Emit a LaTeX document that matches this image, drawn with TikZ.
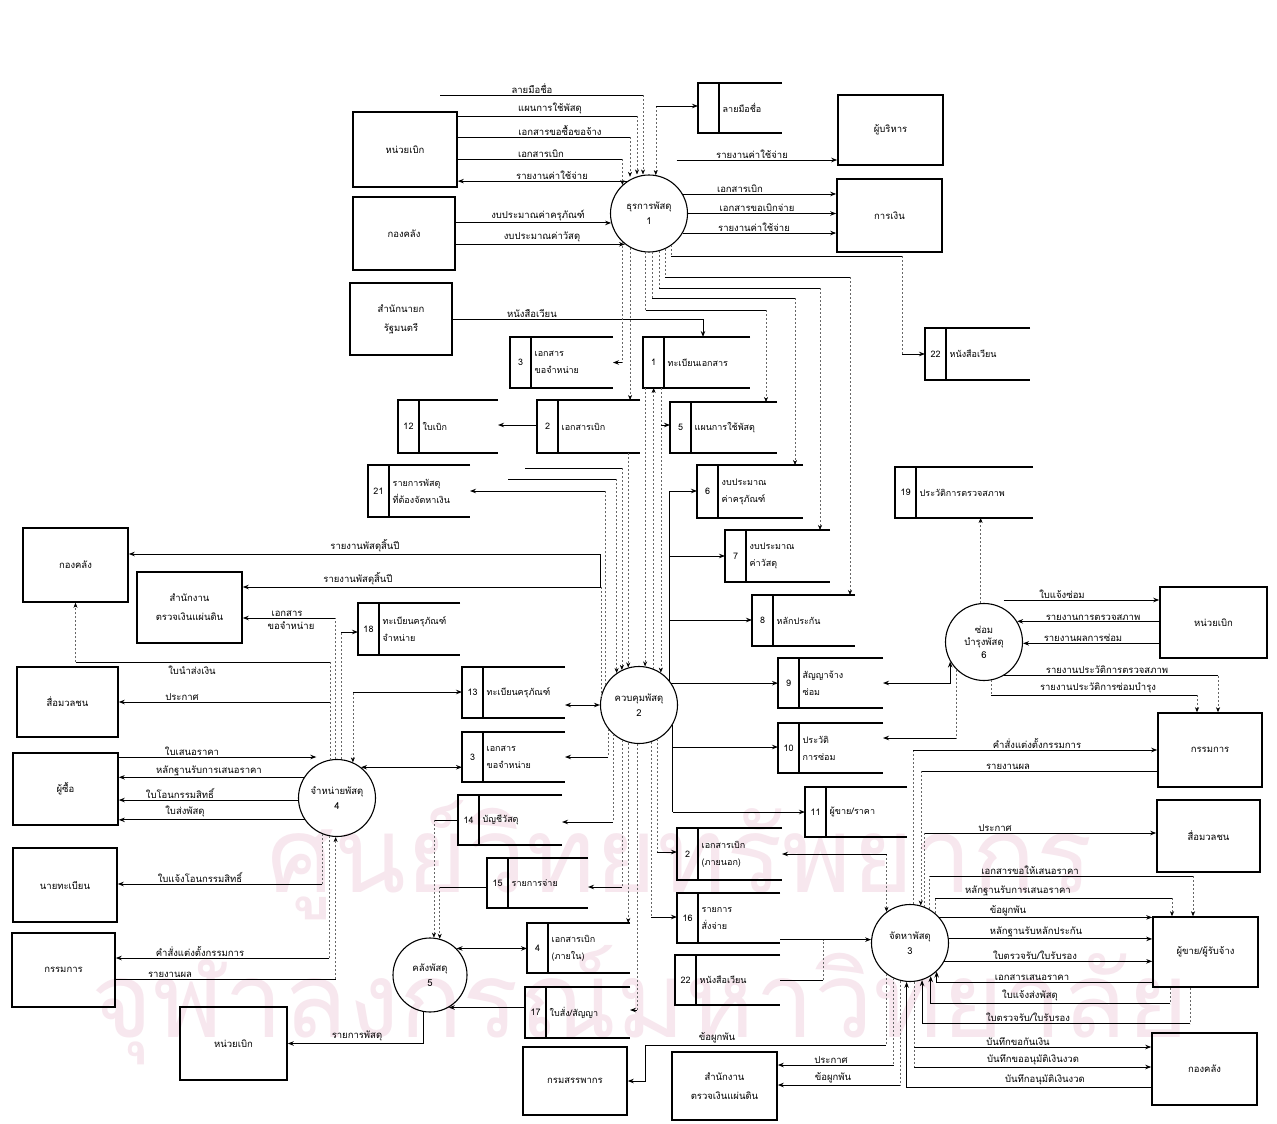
\documentclass[tikz,border=0pt]{standalone}
\usepackage{fontspec}
\newfontfamily\thai[Script=Thai]{Loma}
\usetikzlibrary{arrows.meta,fit}
\definecolor{wmpink}{RGB}{247,231,238}

% data store: name, left, top, right, bottom, number, text
\newcommand{\dstore}[7]{%
  \coordinate (#1-a) at (#2,#3);
  \coordinate (#1-b) at (#4,#5);
  \node[fit=(#1-a)(#1-b), inner sep=0pt, outer sep=0pt] (#1) {};
  \draw[sline] (#1.north east) -- (#1.north west) -- (#1.south west) -- (#1.south east);
  \draw[sline] ([xshift=21pt]#1.north west) -- ([xshift=21pt]#1.south west);
  \node[stxt] (#1-n) at ([xshift=10.5pt]#1.west) {#6};
  \node[stxt, anchor=west, align=left] (#1-t) at ([xshift=24pt]#1.west) {#7};
}

\begin{document}
\begin{tikzpicture}[x=1pt,y=-1pt,
  ent/.style={draw, line width=1.6pt, rectangle, align=center, inner sep=0pt,
    font=\thai\fontsize{9.5}{19}\selectfont},
  proc/.style={draw, circle, line width=1.1pt, minimum size=77pt, align=center,
    inner sep=0pt, font=\thai\fontsize{9.5}{15}\selectfont},
  sline/.style={line width=1.4pt},
  stxt/.style={font=\thai\fontsize{9}{17}\selectfont, inner sep=0.5pt},
  fl/.style={line width=0.9pt, -{Stealth[length=6pt,width=4.5pt]}},
  fb/.style={line width=0.9pt, {Stealth[length=6pt,width=4.5pt]}-{Stealth[length=6pt,width=4.5pt]}},
  pl/.style={line width=0.9pt},
  dl/.style={line width=0.5pt, dash pattern=on 2pt off 2pt, draw=black!60},
  dfl/.style={dl, -{Stealth[length=5pt,width=4pt,black]}},
  dfr/.style={dl, {Stealth[length=5pt,width=4pt,black]}-},
  lbl/.style={font=\thai\fontsize{9.5}{10}\selectfont, inner sep=0.5pt, anchor=south},
  wm/.style={text=wmpink, inner sep=0pt}
]
\useasboundingbox (0,0) rectangle (1277,1124);
\fill[white] (0,0) rectangle (1277,1124);

% faint library stamp in the background
\node[wm, font=\thai\fontsize{105}{105}\selectfont] (wm1) at (680,860) {ศูนย์วิทยทรัพยากร};
\node[wm, font=\thai\fontsize{105}{105}\selectfont] (wm2) at (640,1005) {จุฬาลงกรณ์มหาวิทยาลัย};

% ---------------- external entities ----------------
\node[ent, minimum width=104pt, minimum height=75pt] (E1) at (405,149.5) {หน่วยเบิก};
\node[ent, minimum width=102pt, minimum height=73pt] (E2) at (404,233.5) {กองคลัง};
\node[ent, minimum width=102pt, minimum height=72pt] (E3) at (401,319) {สำนักนายก\\รัฐมนตรี};
\node[ent, minimum width=105pt, minimum height=70pt] (E4) at (890.5,130) {ผู้บริหาร};
\node[ent, minimum width=105pt, minimum height=73pt] (E5) at (889.5,215.5) {การเงิน};
\node[ent, minimum width=105pt, minimum height=74pt] (E6) at (75.5,565) {กองคลัง};
\node[ent, minimum width=105pt, minimum height=71pt] (E7) at (189.5,607.5) {สำนักงาน\\ตรวจเงินแผ่นดิน};
\node[ent, minimum width=101pt, minimum height=70pt] (E8) at (67.5,702) {สื่อมวลชน};
\node[ent, minimum width=105pt, minimum height=72pt] (E9) at (65.5,789) {ผู้ซื้อ};
\node[ent, minimum width=104pt, minimum height=74pt] (E10) at (65,885) {นายทะเบียน};
\node[ent, minimum width=103pt, minimum height=74pt] (E11) at (63.5,970) {กรรมการ};
\node[ent, minimum width=107pt, minimum height=73pt] (E12) at (233.5,1043.5) {หน่วยเบิก};
\node[ent, minimum width=104pt, minimum height=68pt] (E13) at (575,1081) {กรมสรรพากร};
\node[ent, minimum width=105pt, minimum height=68pt] (E14) at (724.5,1086) {สำนักงาน\\ตรวจเงินแผ่นดิน};
\node[ent, minimum width=107pt, minimum height=71pt] (E15) at (1213.5,622.5) {หน่วยเบิก};
\node[ent, minimum width=104pt, minimum height=74pt] (E16) at (1210,750) {กรรมการ};
\node[ent, minimum width=103pt, minimum height=72pt] (E17) at (1208.5,836) {สื่อมวลชน};
\node[ent, minimum width=105pt, minimum height=70pt] (E18) at (1205.5,952) {ผู้ขาย/ผู้รับจ้าง};
\node[ent, minimum width=105pt, minimum height=72pt] (E19) at (1204.5,1069) {กองคลัง};

% ---------------- processes ----------------
\node[proc] (P1) at (649,213.5) {ธุรการพัสดุ\\1};
\node[proc] (P2) at (639,705) {ควบคุมพัสดุ\\2};
\node[proc] (P3) at (910,943) {จัดหาพัสดุ\\3};
\node[proc] (P4) at (337,798) {จำหน่ายพัสดุ\\4};
\node[proc, minimum size=74pt] (P5) at (430,975) {คลังพัสดุ\\5};
\node[proc, font=\thai\fontsize{9.5}{12.5}\selectfont] (P6) at (984,642) {ซ่อม\\บำรุงพัสดุ\\6};

% ---------------- data stores ----------------
\dstore{Ssig}{698}{83}{782}{133}{}{ลายมือชื่อ}
\dstore{S22a}{925}{328}{1030}{380}{22}{หนังสือเวียน}
\dstore{S19}{895}{467}{1033}{518}{19}{ประวัติการตรวจสภาพ}
\dstore{S3a}{510}{337}{613}{388}{3}{เอกสาร\\ขอจำหน่าย}
\dstore{S1}{643}{337}{750}{388}{1}{ทะเบียนเอกสาร}
\dstore{S12}{398}{400}{498}{453}{12}{ใบเบิก}
\dstore{S2a}{537}{400}{640}{453}{2}{เอกสารเบิก}
\dstore{S5}{670}{402}{777}{453}{5}{แผนการใช้พัสดุ}
\dstore{S21}{368}{465}{470}{517}{21}{รายการพัสดุ\\ที่ต้องจัดหาเงิน}
\dstore{S6}{697}{465}{803}{518}{6}{งบประมาณ\\ค่าครุภัณฑ์}
\dstore{S7}{725}{530}{830}{582}{7}{งบประมาณ\\ค่าวัสดุ}
\dstore{S8}{752}{595}{855}{646}{8}{หลักประกัน}
\dstore{S18}{358}{603}{460}{655}{18}{ทะเบียนครุภัณฑ์\\จำหน่าย}
\dstore{S9}{778}{658}{883}{708}{9}{สัญญาจ้าง\\ซ่อม}
\dstore{S13}{462}{667}{565}{718}{13}{ทะเบียนครุภัณฑ์}
\dstore{S10}{778}{723}{883}{773}{10}{ประวัติ\\การซ่อม}
\dstore{S3b}{462}{732}{565}{782}{3}{เอกสาร\\ขอจำหน่าย}
\dstore{S11}{805}{787}{907}{837}{11}{ผู้ขาย/ราคา}
\dstore{S14}{458}{795}{562}{845}{14}{บัญชีวัสดุ}
\dstore{S2b}{677}{828}{782}{880}{2}{เอกสารเบิก\\(ภายนอก)}
\dstore{S15}{487}{858}{588}{908}{15}{รายการจ่าย}
\dstore{S16}{677}{893}{780}{943}{16}{รายการ\\สั่งจ่าย}
\dstore{S4}{527}{923}{630}{973}{4}{เอกสารเบิก\\(ภายใน)}
\dstore{S22b}{675}{955}{780}{1005}{22}{หนังสือเวียน}
\dstore{S17}{525}{987}{630}{1038}{17}{ใบสั่ง/สัญญา}

% ---------------- process 1 ----------------
\coordinate (t0) at (440,95);
\draw[pl] (t0) -- (643,95) coordinate (t0b);
\draw[dfl] (t0b) -- (t0b |- P1.north);
\draw[pl] (E1.east |- 0,116) -- (637,116) coordinate (t1);
\draw[dfl] (t1) -- (t1 |- P1.north);
\draw[pl] (E1.east |- 0,137) -- (630,137) coordinate (t2);
\draw[dfl] (t2) -- (t2 |- P1.110);
\draw[pl] (E1.east |- 0,159) -- (P1.133 |- 0,159) coordinate (t3);
\draw[dfl] (t3) -- (P1.133);
\draw[fl] (P1.124) -- (P1.124 -| E1.east);
\draw[fl] (E2.east |- P1.-166) -- (P1.-166);
\draw[fl] (E2.east |- P1.-128) -- (P1.-128);
\draw[fl] (P1.45 |- 0,160) -- (E4.west |- 0,160);
\draw[fl] (P1.30) -- (P1.30 -| E5.west);
\draw[fl] (P1.0) -- (P1.0 -| E5.west);
\draw[fl] (P1.-30) -- (P1.-30 -| E5.west);
\draw[dfr] (P1.80) -- (P1.80 |- 0,106) coordinate (t4);
\draw[fl] (t4) -- (t4 -| Ssig.west);

% process 1 to the stores on its right
\draw[dl] (P1.-55) -- (P1.-55 |- 0,256) coordinate (u1);
\draw[pl] (u1) -- (u1 -| 902,0) coordinate (u1b);
\draw[dl] (u1b) -- (u1b |- S22a.west) coordinate (u1c);
\draw[fl] (u1c) -- (S22a.west);
\draw[dl] (P1.-66) -- (P1.-66 |- 0,277) coordinate (u2);
\draw[pl] (u2) -- (u2 -| 850,0) coordinate (u2b);
\draw[dfl] (u2b) -- (u2b |- S8.north);
\draw[dl] (P1.-75) -- (P1.-75 |- 0,288) coordinate (u3);
\draw[pl] (u3) -- (u3 -| 820,0) coordinate (u3b);
\draw[dfl] (u3b) -- (u3b |- S7.north);
\draw[dl] (P1.-85) -- (P1.-85 |- 0,298) coordinate (u4);
\draw[pl] (u4) -- (u4 -| 795,0) coordinate (u4b);
\draw[dfl] (u4b) -- (u4b |- S6.north);
\draw[dl] (P1.-95) -- (P1.-95 |- 0,310) coordinate (u5);
\draw[pl] (u5) -- (u5 -| 766,0) coordinate (u5b);
\draw[dfl] (u5b) -- (u5b |- S5.north);
\draw[pl] (E3.east |- 0,319) -- (703,319) coordinate (u6);
\draw[fl] (u6) -- (u6 |- S1.north);
\draw[dl] (P1.-133) -- (P1.-133 |- S3a.east) coordinate (u7);
\draw[fl] (u7) -- (S3a.east);
\draw[dfl] (P1.-119) -- (P1.-119 |- S2a.north);
\draw[fl] (S2a.west |- 0,425) -- (S12.east |- 0,425);

% ---------------- process 2 ----------------
\draw[dl] (P2.150) -- (P2.150 |- S21.east) coordinate (v1);
\draw[fl] (v1) -- (S21.east);
\coordinate (v2a) at (508,479);
\draw[pl] (v2a) -- (P2.125 |- 0,479) coordinate (v2);
\draw[dfl] (v2) -- (P2.125);
\coordinate (v3a) at (525,468);
\draw[pl] (v3a) -- (P2.116 |- 0,468) coordinate (v3);
\draw[dfl] (v3) -- (P2.116);
\draw[dfl] (P2.106 |- S2a.south) -- (P2.106);
\draw[dl] (P2.168) -- (P2.168 |- 0,587) coordinate (v4);
\draw[fl] (v4) -- (v4 -| E7.east);
\draw[pl] (v4) -- (v4 |- 0,554) coordinate (v5);
\draw[fl] (v5) -- (v5 -| E6.east);
\draw[dfl] (P2.81 |- S1.south) -- (P2.81);
\draw[dfl] (P2.68) -- (P2.68 |- S1.south);
\draw[dfl] (P2.56 |- S1.south) -- (P2.56);
\draw[fl] (P2.56 |- 0,425) -- (S5.west |- 0,425);
\draw[pl] (P2.38) -- (P2.38 |- 0,491);
\draw[fl] (P2.38 |- 0,491) -- (S6.west |- 0,491);
\draw[fl] (P2.38 |- 0,556) -- (S7.west |- 0,556);
\draw[fl] (P2.38 |- 0,620) -- (S8.west |- 0,620);
\draw[fl] (P2.34) -- (P2.34 -| S9.west);
\draw[pl] (P2.-30) -- (P2.-30 |- 0,812);
\draw[fl] (P2.-30 |- 0,747) -- (S10.west |- 0,747);
\draw[fl] (P2.-30 |- 0,812) -- (S11.west |- 0,812);
\draw[fb] (S13.east |- P2.west) -- (P2.west);
\draw[dl] (P2.-142) -- (P2.-142 |- 0,757) coordinate (w1);
\draw[fl] (w1) -- (w1 -| S3b.east);
\draw[dl] (P2.-132) -- (P2.-132 |- 0,822) coordinate (w2);
\draw[fl] (w2) -- (w2 -| S14.east);
\draw[dl] (P2.-116) -- (P2.-116 |- 0,887) coordinate (w3);
\draw[fl] (w3) -- (w3 -| S15.east);
\draw[dfl] (P2.-106) -- (P2.-106 |- S4.north);
\draw[dl] (P2.-93) -- (P2.-93 |- 0,1010) coordinate (w4);
\draw[fl] (w4) -- (w4 -| S17.east);
\draw[dl] (P2.-72) -- (P2.-72 |- 0,917) coordinate (w5);
\draw[fl] (w5) -- (w5 -| S16.west);
\draw[dl] (P2.-62) -- (P2.-62 |- 0,852) coordinate (w6);
\draw[fl] (w6) -- (w6 -| S2b.west);

% ---------------- process 4 ----------------
\draw[fl] (E9.east |- 0,757) -- (P4.122 |- 0,757);
\draw[fl] (P4.148) -- (P4.148 -| E9.east);
\draw[fl] (P4.-177) -- (P4.-177 -| E9.east);
\draw[fl] (P4.-146) -- (P4.-146 -| E9.east);
\draw[dl] (P4.-112) -- (P4.-112 |- 0,884) coordinate (x1);
\draw[fl] (x1) -- (x1 -| E10.east);
\draw[dl] (P4.-102) -- (P4.-102 |- 0,958) coordinate (x2);
\draw[fl] (x2) -- (x2 -| E11.east);
\draw[pl] (E11.east |- 0,979) -- (P4.-92 |- 0,979) coordinate (x3);
\draw[dfl] (x3) -- (P4.-92);
\draw[dl] (P4.100) -- (P4.100 |- 0,662) coordinate (y1);
\draw[pl] (y1) -- (y1 -| E6.south) coordinate (y1b);
\draw[dfl] (y1b) -- (E6.south);
\draw[fl] (P4.100 |- 0,702) -- (E8.east |- 0,702);
\draw[dl] (P4.93) -- (P4.93 |- 0,618) coordinate (y2);
\draw[fl] (y2) -- (y2 -| E7.east);
\draw[dl] (P4.84) -- (P4.84 |- 0,632) coordinate (y3);
\draw[fl] (y3) -- (y3 -| S18.west);
\draw[dfr] (P4.66) -- (P4.66 |- 0,692) coordinate (y4);
\draw[fl] (y4) -- (y4 -| S13.west);
\draw[fb] (P4.52) -- (P4.52 -| S3b.west);

% ---------------- process 5 ----------------
\draw[pl] (S14.west |- 0,820) -- (P5.84 |- 0,820) coordinate (z1);
\draw[dfl] (z1) -- (P5.84);
\draw[pl] (S15.west |- 0,887) -- (P5.75 |- 0,887) coordinate (z2);
\draw[dfl] (z2) -- (P5.75);
\draw[fb] (P5.45) -- (P5.45 -| S4.west);
\draw[fl] (S17.west |- P5.-60) -- (P5.-60);
\draw[fl] (P5.-100) |- (E12.east);

% ---------------- process 6 ----------------
\draw[fl] (P6.60 |- 0,600) -- (E15.west |- 0,600);
\draw[fl] (E15.west |- P6.32) -- (P6.32);
\draw[fl] (E15.west |- P6.-2) -- (P6.-2);
\draw[pl] (P6.-60) -- (P6.-60 -| 1218,0) coordinate (r1);
\draw[dfl] (r1) -- (r1 |- E16.north);
\draw[dl] (P6.-80) -- (P6.-80 |- 0,695) coordinate (r2);
\draw[pl] (r2) -- (r2 -| 1197,0) coordinate (r3);
\draw[dfl] (r3) -- (r3 |- E16.north);
\draw[dfl] (P6.95) -- (P6.95 |- S19.south);
\draw[fb] (P6.-150) |- (S9.east);
\draw[dl] (P6.-135) -- (P6.-135 |- 0,738) coordinate (r4);
\draw[fl] (r4) -- (r4 -| S10.east);

% ---------------- process 3 ----------------
\draw[dl] (P3.85) -- (P3.85 |- 0,750) coordinate (s1);
\draw[fl] (s1) -- (s1 -| E16.west);
\draw[pl] (E16.west |- 0,771) -- (P3.74 |- 0,771) coordinate (s2);
\draw[dfl] (s2) -- (P3.74);
\draw[dl] (P3.68) -- (P3.68 |- 0,833) coordinate (s3);
\draw[fl] (s3) -- (s3 -| E17.west);
\draw[dl] (P3.60) -- (P3.60 |- 0,876) coordinate (s4);
\draw[pl] (s4) -- (s4 -| 1193,0) coordinate (s5);
\draw[dfl] (s5) -- (s5 |- E18.north);
\draw[dl] (P3.50) -- (P3.50 |- 0,898) coordinate (s6);
\draw[pl] (s6) -- (s6 -| 1172,0) coordinate (s7);
\draw[dfl] (s7) -- (s7 |- E18.north);
\draw[fl] (P3.41) -- (P3.41 -| E18.west);
\draw[fl] (P3.6) -- (P3.6 -| E18.west);
\draw[fl] (P3.-28) -- (P3.-28 -| E18.west);
\draw[fl] (E18.west |- 0,982) -| (P3.-47);
\draw[dl] (E18.south -| 1170,0) -- ++(0,16) coordinate (s8);
\draw[fl] (s8) -| (P3.-58);
\draw[dl] (E18.south -| 1190,0) -- ++(0,36) coordinate (s9);
\draw[fl] (s9) -| (P3.-72);
\draw[fl] (E19.west |- 0,1087) -| (P3.-95);
\draw[dl] (P3.-84) -- (P3.-84 |- 0,1067) coordinate (s10);
\draw[fl] (P3.-84 |- 0,1047) -- (E19.west |- 0,1047);
\draw[fl] (s10) -- (s10 -| E19.west);
\draw[dl] (P3.-115) -- (P3.-115 |- 0,1065) coordinate (s11);
\draw[fl] (s11) -- (s11 -| E14.east);
\draw[dl] (P3.-105) -- (P3.-105 |- 0,1085) coordinate (s12);
\draw[fl] (s12) -- (s12 -| E14.east);
\draw[dl] (P3.-128) -- (P3.-128 |- 0,1045) coordinate (s13);
\draw[fl] (s13) -- (s13 -| 645,0) |- (E13.east);
\draw[dfl] (P3.127 |- S2b.east) -- (P3.127);
\draw[fl] (P3.127 |- S2b.east) -- (S2b.east);
\draw[fl] (S16.east |- P3.175) -- (P3.175);
\draw[pl] (S22b.east) -- ++(43,0) coordinate (s14);
\draw[dl] (s14) -- (s14 |- P3.175);

% ---------------- flow labels ----------------
\node[lbl] (l1) at (532,94) {ลายมือชื่อ};
\node[lbl] (l2) at (550,115) {แผนการใช้พัสดุ};
\node[lbl] (l3) at (560,136) {เอกสารขอซื้อขอจ้าง};
\node[lbl] (l4) at (541,158) {เอกสารเบิก};
\node[lbl] (l5) at (552,180) {รายงานค่าใช้จ่าย};
\node[lbl] (l6) at (538,222) {งบประมาณค่าครุภัณฑ์};
\node[lbl] (l7) at (542,243) {งบประมาณค่าวัสดุ};
\node[lbl] (l8) at (752,159) {รายงานค่าใช้จ่าย};
\node[lbl] (l9) at (740,193) {เอกสารเบิก};
\node[lbl] (l10) at (757,212.5) {เอกสารขอเบิกจ่าย};
\node[lbl] (l11) at (754,232) {รายงานค่าใช้จ่าย};
\node[lbl] (l12) at (532,318) {หนังสือเวียน};
\node[lbl] (l13) at (365,553) {รายงานพัสดุสิ้นปี};
\node[lbl] (l14) at (358,586) {รายงานพัสดุสิ้นปี};
\node[lbl] (l15a) at (287,617) {เอกสาร};
\node[lbl, anchor=north] (l15b) at (291,621) {ขอจำหน่าย};
\node[lbl, anchor=north] (l16) at (192,665) {ใบนำส่งเงิน};
\node[lbl] (l17) at (182,701) {ประกาศ};
\node[lbl] (l18) at (192,756) {ใบเสนอราคา};
\node[lbl] (l19) at (209,777) {หลักฐานรับการเสนอราคา};
\node[lbl] (l20) at (180,799) {ใบโอนกรรมสิทธิ์};
\node[lbl] (l21) at (185,818) {ใบส่งพัสดุ};
\node[lbl] (l22) at (200,883) {ใบแจ้งโอนกรรมสิทธิ์};
\node[lbl] (l23) at (200,957) {คำสั่งแต่งตั้งกรรมการ};
\node[lbl] (l24) at (170,978) {รายงานผล};
\node[lbl] (l25) at (357,1042) {รายการพัสดุ};
\node[lbl] (l26) at (1062,599) {ใบแจ้งซ่อม};
\node[lbl] (l27) at (1093,621) {รายงานการตรวจสภาพ};
\node[lbl] (l28) at (1083,642) {รายงานผลการซ่อม};
\node[lbl] (l29) at (1107,674) {รายงานประวัติการตรวจสภาพ};
\node[lbl] (l30) at (1098,694) {รายงานประวัติการซ่อมบำรุง};
\node[lbl] (l31) at (1037,749) {คำสั่งแต่งตั้งกรรมการ};
\node[lbl] (l32) at (1008,770) {รายงานผล};
\node[lbl] (l33) at (995,832) {ประกาศ};
\node[lbl] (l34) at (1030,875) {เอกสารขอให้เสนอราคา};
\node[lbl] (l35) at (1018,897) {หลักฐานรับการเสนอราคา};
\node[lbl] (l36) at (1008,917) {ข้อผูกพัน};
\node[lbl] (l37) at (1036,938) {หลักฐานรับหลักประกัน};
\node[lbl] (l38) at (1035,960) {ใบตรวจรับ/ใบรับรอง};
\node[lbl] (l39) at (1032,981) {เอกสารเสนอราคา};
\node[lbl] (l40) at (1030,1002) {ใบแจ้งส่งพัสดุ};
\node[lbl] (l41) at (1028,1022) {ใบตรวจรับ/ใบรับรอง};
\node[lbl] (l42) at (1018,1046) {บันทึกขอกันเงิน};
\node[lbl] (l43) at (1033,1066) {บันทึกขออนุมัติเงินงวด};
\node[lbl] (l44) at (1045,1086) {บันทึกอนุมัติเงินงวด};
\node[lbl] (l45) at (831,1064) {ประกาศ};
\node[lbl] (l46) at (833,1084) {ข้อผูกพัน};
\node[lbl] (l47) at (717,1044) {ข้อผูกพัน};
\end{tikzpicture}
\end{document}
